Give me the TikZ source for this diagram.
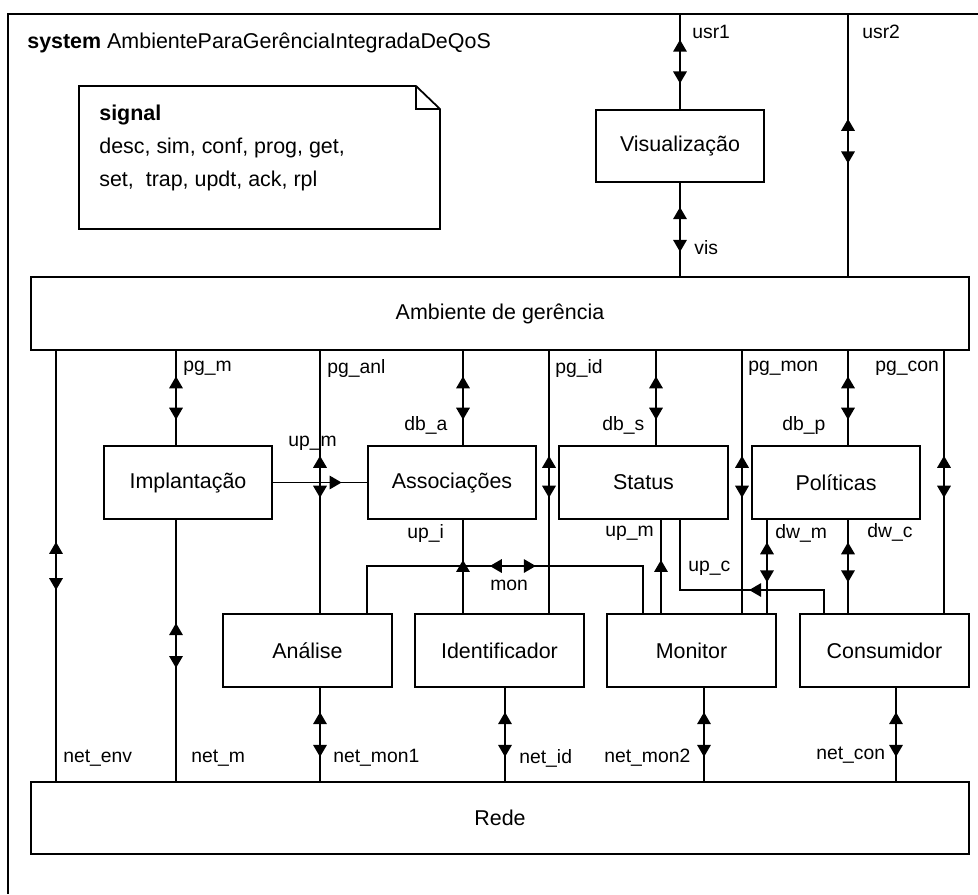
\documentclass[tikz,border=0pt]{standalone}
\usepackage{fontspec}
\setmainfont{Liberation Sans}
\usetikzlibrary{arrows.meta,decorations.markings}

\tikzset{chtip/.tip={Triangle[width=0.27cm,length=0.24cm]}}

\begin{document}
\begin{tikzpicture}[x=0.02cm, y=-0.02cm,
        blk/.style={draw, line width=1pt, minimum width=3.37cm,
          minimum height=1.46cm, inner sep=0pt, font=\fontsize{12.2}{14}\selectfont},
        wide/.style={blk, minimum width=18.76cm},
        lbl/.style={anchor=west, inner sep=0pt, font=\fontsize{11}{13}\selectfont},
        wire/.style={line width=1pt},
        bichan/.style 2 args={wire, postaction={decorate}, decoration={markings,
            mark=at position #1 with {\arrowreversed{chtip}},
            mark=at position #2 with {\arrow{chtip}}}},
        unichan/.style={wire, postaction={decorate}, decoration={markings,
            mark=at position #1 with {\arrow{chtip}}}},
      ]
        \useasboundingbox (0,0) rectangle (978,894);

        % System frame
        \draw[wire] (978,14) -- (8,14) -- (8,894);
        \node[anchor=west, inner sep=0pt, font=\fontsize{12.2}{14}\selectfont] (title)
          at (27,43) {\textbf{system} AmbienteParaGerênciaIntegradaDeQoS};

        % Signal note
        \draw[wire] (79,86) -- (416,86) -- (440,109) -- (440,229) -- (79,229) -- cycle;
        \draw[wire] (416,86) -- (416,109) -- (440,109);
        \node[anchor=north west, align=left, inner sep=0pt,
          font=\fontsize{12.2}{18.8}\selectfont] (sigtxt) at (99,105)
          {\textbf{signal}\\desc, sim, conf, prog, get,\\set,\ \ trap, updt, ack, rpl};

        % Blocks
        \node[blk, minimum height=1.44cm] (vis) at (680,146) {Visualização};
        \node[wide] (amb) at (500,313.5) {Ambiente de gerência};
        \node[blk] (impl)  at (188,482.5)   {Implantação};
        \node[blk] (assoc) at (452,482.5)   {Associações};
        \node[blk] (stat)  at (643.5,482.5) {Status};
        \node[blk] (polit) at (836,482.5)   {Políticas};
        \node[blk] (anal)  at (307.5,650.5) {Análise};
        \node[blk] (ident) at (499.5,650.5) {Identificador};
        \node[blk] (monit) at (691.5,650.5) {Monitor};
        \node[blk] (consu) at (884.5,650.5) {Consumidor};
        \node[wide, minimum height=1.44cm] (rede) at (500,818) {Rede};

        % Channel positions
        \coordinate (usr1) at (680,14);
        \coordinate (usr2) at (848,14);
        \coordinate (xenv) at (56,0);
        \coordinate (xm)   at (176,0);
        \coordinate (xanl) at (320,0);
        \coordinate (xa)   at (463,0);
        \coordinate (xid)  at (549,0);
        \coordinate (xs)   at (656,0);
        \coordinate (xupm) at (661,0);
        \coordinate (xmon) at (742,0);
        \coordinate (xdwm) at (767,0);
        \coordinate (xp)   at (848,0);
        \coordinate (xcon) at (944,0);
        \coordinate (xni)  at (505,0);
        \coordinate (xnm)  at (704,0);
        \coordinate (xnc)  at (896,0);
        \coordinate (mon1) at (367,566);
        \coordinate (mon2) at (643,566);
        \coordinate (upc1) at (680,590);
        \coordinate (upc2) at (824,590);

        % Environment
        \draw[bichan={0.27}{0.73}] (usr1) -- (vis.north);
        \draw[bichan={0.40}{0.57}] (usr2) -- (amb.north -| usr2);
        \draw[bichan={0.26}{0.74}] (vis.south) -- (amb.north -| vis.south);

        % Ambiente de gerencia
        \draw[bichan={0.27}{0.73}] (amb.south -| xm) -- (impl.north -| xm);
        \draw[bichan={0.27}{0.73}] (amb.south -| xa) -- (assoc.north -| xa);
        \draw[bichan={0.27}{0.73}] (amb.south -| xs) -- (stat.north -| xs);
        \draw[bichan={0.27}{0.73}] (amb.south -| xp) -- (polit.north -| xp);
        \draw[bichan={0.40}{0.56}] (amb.south -| xanl) -- (anal.north -| xanl);
        \draw[bichan={0.40}{0.56}] (amb.south -| xid) -- (ident.north -| xid);
        \draw[bichan={0.40}{0.56}] (amb.south -| xmon) -- (monit.north -| xmon);
        \draw[bichan={0.40}{0.56}] (amb.south -| xcon) -- (consu.north -| xcon);
        \draw[bichan={0.444}{0.556}] (amb.south -| xenv) -- (rede.north -| xenv);

        % Between blocks
        \draw[unichan=0.73] (impl.east) -- (assoc.west);
        \draw[unichan=0.57] (ident.north -| xa) -- (assoc.south -| xa);
        \draw[unichan=0.57] (monit.north -| xupm) -- (stat.south -| xupm);
        \draw[bichan={0.24}{0.67}] (polit.south -| xdwm) -- (monit.north -| xdwm);
        \draw[bichan={0.24}{0.67}] (polit.south -| xp) -- (consu.north -| xp);
        \draw[bichan={3.4cm}{4.32cm}] (anal.north -| mon1) -- (mon1) -- (mon2) -- (monit.north -| mon2);
        \draw[unichan=1.96cm] (consu.north -| upc2) -- (upc2) -- (upc1) -- (stat.south -| upc1);

        % Rede
        \draw[bichan={0.395}{0.567}] (impl.south -| xm) -- (rede.north -| xm);
        \draw[bichan={0.26}{0.74}] (anal.south -| xanl) -- (rede.north -| xanl);
        \draw[bichan={0.26}{0.74}] (ident.south -| xni) -- (rede.north -| xni);
        \draw[bichan={0.26}{0.74}] (monit.south -| xnm) -- (rede.north -| xnm);
        \draw[bichan={0.26}{0.74}] (consu.south -| xnc) -- (rede.north -| xnc);

        % Channel names
        \node[lbl] (lusr1)  at (692,32)  {usr1};
        \node[lbl] (lusr2)  at (862,32)  {usr2};
        \node[lbl] (lvis)   at (694,248) {vis};
        \node[lbl] (lpgm)   at (183,368) {pg\_m};
        \node[lbl] (lpganl) at (327,368) {pg\_anl};
        \node[lbl] (lpgid)  at (555,368) {pg\_id};
        \node[lbl] (lpgmon) at (748,368) {pg\_mon};
        \node[lbl] (lpgcon) at (875,368) {pg\_con};
        \node[lbl] (ldba)   at (404,425) {db\_a};
        \node[lbl] (ldbs)   at (602,425) {db\_s};
        \node[lbl] (ldbp)   at (782,425) {db\_p};
        \node[lbl] (lupm)   at (288,443) {up\_m};
        \node[lbl] (lupi)   at (407,533) {up\_i};
        \node[lbl] (lupms)  at (605,533) {up\_m};
        \node[lbl] (ldwm)   at (775,533) {dw\_m};
        \node[lbl] (ldwc)   at (867,532) {dw\_c};
        \node[lbl] (lupc)   at (688,568) {up\_c};
        \node[lbl] (lmon)   at (490,585) {mon};
        \node[lbl] (lnenv)  at (63,758)  {net\_env};
        \node[lbl] (lnm)    at (191,758) {net\_m};
        \node[lbl] (lnmon1) at (333,758) {net\_mon1};
        \node[lbl] (lnid)   at (519,758) {net\_id};
        \node[lbl] (lnmon2) at (604,758) {net\_mon2};
        \node[lbl] (lncon)  at (816,755) {net\_con};
      \end{tikzpicture}
\end{document}
